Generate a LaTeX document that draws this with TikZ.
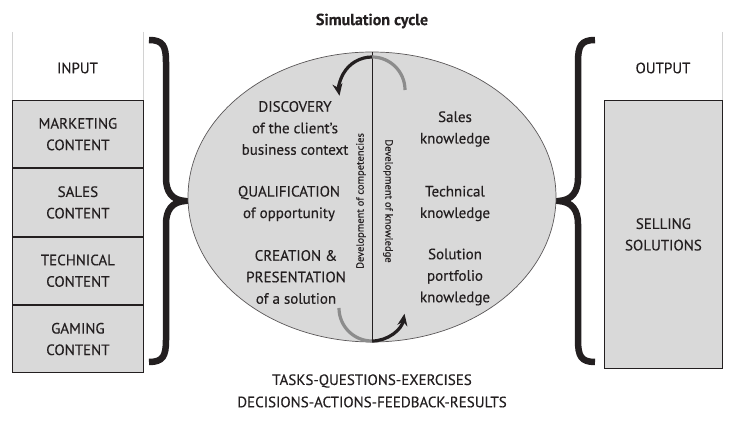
\documentclass[tikz,border=0pt]{standalone}
\usepackage{fontspec}
\setmainfont{PT Sans}[FakeBold=0.25]
\usetikzlibrary{arrows.meta}
\definecolor{boxgray}{HTML}{D9D9D9}
\definecolor{ink}{HTML}{231F20}
\definecolor{arcgray}{HTML}{8C8C8C}
\begin{document}
\begin{tikzpicture}[x=1pt,y=1pt,
    lbl/.style={align=center,text=ink,font=\fontsize{15}{21.5}\selectfont},
    cell/.style={lbl,draw=ink,fill=boxgray,line width=0.8pt,anchor=north west,
      minimum width=131pt,minimum height=67.5pt,inner sep=0pt},
    brace/.style={ink,line width=6.5pt},
    cyc/.style={line width=3.2pt},
    vlbl/.style={text=ink,font=\fontsize{10.5}{12}\selectfont}]
\useasboundingbox (0,0) rectangle (731,423);
% input column
\draw[gray!35,line width=0.8pt] (12,391) -- (12,323) (143,391) -- (143,323);
\node[lbl] (input) at (77.5,355) {INPUT};
\node[cell] (mkt) at (12,323) {MARKETING\\CONTENT};
\node[cell] (sales) at (mkt.south west) {SALES\\CONTENT};
\node[cell] (tech) at (sales.south west) {TECHNICAL\\CONTENT};
\node[cell] (game) at (tech.south west) {GAMING\\CONTENT};
% braces
\draw[brace] (149,383) .. controls (163,383) and (166,377) .. (166,361) -- (166,245)
  .. controls (166,231) and (172,223) .. (185,222) .. controls (172,221) and (166,213) .. (166,199)
  -- (166,83) .. controls (166,67) and (163,61) .. (149,61);
\draw[brace] (595,383) .. controls (581,383) and (578,377) .. (578,361) -- (578,245)
  .. controls (578,231) and (572,223) .. (559,222) .. controls (572,221) and (578,213) .. (578,199)
  -- (578,83) .. controls (578,67) and (581,61) .. (595,61);
% simulation cycle
\node[lbl,font=\fontsize{16}{21}\selectfont\bfseries] (title) at (372,402) {Simulation cycle};
\draw[draw=ink!75,fill=boxgray,line width=0.7pt] (372,226) ellipse (184 and 145);
\draw[ink,line width=0.8pt] (372,371) -- (372,81);
\draw[arcgray,cyc] (405,333) arc (0:90:33);
\draw[ink,cyc,-{Stealth[length=12pt,width=10pt]}] (372,366) arc (90:190:33);
\draw[arcgray,cyc] (339,115) arc (180:270:33);
\draw[ink,cyc,-{Stealth[length=12pt,width=10pt]}] (372,82) arc (270:350:33);
\node[lbl] (disc) at (295,295) {DISCOVERY\\of the client's\\business context};
\node[lbl] (qual) at (289,219.5) {QUALIFICATION\\of opportunity};
\node[lbl] (crea) at (296,146) {CREATION \&\\PRESENTATION\\of a solution};
\node[lbl] (salesk) at (455,294) {Sales\\knowledge};
\node[lbl] (techk) at (455,219.5) {Technical\\knowledge};
\node[lbl] (solk) at (455,146) {Solution\\portfolio\\knowledge};
\node[vlbl,rotate=90] (comp) at (361,222) {Development of competencies};
\node[vlbl,rotate=-90] (know) at (388,222) {Development of knowledge};
\node[lbl] (tasks) at (372,42) {TASKS-QUESTIONS-EXERCISES};
\node[lbl] (decs) at (372,21) {DECISIONS-ACTIONS-FEEDBACK-RESULTS};
% output column
\draw[gray!35,line width=0.8pt] (722,391) -- (722,323);
\node[lbl] (output) at (663,355) {OUTPUT};
\node[cell,minimum width=118pt,minimum height=268pt] (sell) at (604,323) {SELLING\\SOLUTIONS};
\end{tikzpicture}
\end{document}
